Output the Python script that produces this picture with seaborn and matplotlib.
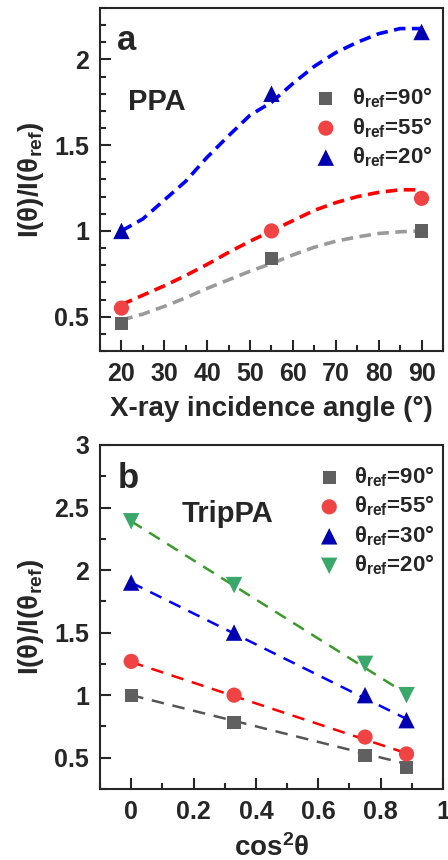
import pandas as pd
import matplotlib
matplotlib.use('Agg')
import matplotlib.pyplot as plt
from matplotlib.ticker import MultipleLocator, FormatStrFormatter
import seaborn as sns

# ---- panel a (PPA) ----
angle_pts = [20, 55, 90]
ppa_90 = [0.46, 0.84, 1.00]
ppa_55 = [0.55, 1.00, 1.19]
ppa_20 = [1.00, 1.80, 2.16]

# fitted curves
fit_angle = [20, 25, 30, 35, 40, 45, 50, 55, 60, 65, 70, 75, 80, 85, 90]
fit_90 = [0.48, 0.515, 0.56, 0.61, 0.665, 0.715, 0.765, 0.81, 0.86, 0.905, 0.94, 0.965, 0.985, 0.995, 1.00]
fit_55 = [0.57, 0.625, 0.68, 0.74, 0.805, 0.875, 0.94, 1.00, 1.06, 1.12, 1.165, 1.20, 1.225, 1.24, 1.24]
fit_20 = [1.00, 1.07, 1.18, 1.29, 1.43, 1.555, 1.675, 1.75, 1.86, 1.96, 2.04, 2.10, 2.15, 2.18, 2.18]

# ---- panel b (TripPA) ----
cos2_pts = [0.0, 0.33, 0.75, 0.883]
trip_90 = [1.00, 0.78, 0.52, 0.42]
trip_55 = [1.27, 1.00, 0.665, 0.53]
trip_30 = [1.90, 1.50, 1.00, 0.80]
trip_20 = [2.39, 1.88, 1.25, 1.00]

line_x = [0.0, 0.883]
line_90 = [1.00, 0.45]
line_55 = [1.265, 0.535]
line_30 = [1.90, 0.81]
line_20 = [2.39, 1.01]

sns.set_style('ticks')
plt.rcParams['font.family'] = ['Liberation Sans', 'DejaVu Sans']
plt.rcParams['font.weight'] = 'bold'
plt.rcParams['axes.labelweight'] = 'bold'
plt.rcParams['mathtext.fontset'] = 'custom'
plt.rcParams['mathtext.bf'] = 'Liberation Sans:bold'
plt.rcParams['mathtext.rm'] = 'Liberation Sans:bold'
plt.rcParams['mathtext.default'] = 'bf'

fig = plt.figure(figsize=(4.48, 8.6), dpi=100)
ax1 = fig.add_axes([0.2232, 0.5919, 0.7656, 0.3988])
ax2 = fig.add_axes([0.2232, 0.0826, 0.7656, 0.4])


def label(t):
    return '\u03b8$_{ref}$=' + t + '\u00b0'


# panel a
series_a = [
    ('90', ppa_90, fit_90, 's', '#606060', '#9a9a9a', 90),
    ('55', ppa_55, fit_55, 'o', '#f04444', '#ff0000', 120),
    ('20', ppa_20, fit_20, '^', '#0000b0', '#0000ff', 140),
]
for name, pts, fit, mk, mc, lc, sz in series_a:
    sns.lineplot(x=fit_angle, y=fit, ax=ax1, color=lc, linewidth=2.6,
                 linestyle=(0, (3.2, 1.8)), legend=False)
for name, pts, fit, mk, mc, lc, sz in series_a:
    sns.scatterplot(x=angle_pts, y=pts, ax=ax1, marker=mk, color=mc, s=sz,
                    edgecolor='none', label=label(name), zorder=3)

ax1.set_xlim(15, 95)
ax1.set_ylim(0.3, 2.3)
ax1.xaxis.set_major_locator(MultipleLocator(10))
ax1.xaxis.set_minor_locator(MultipleLocator(5))
ax1.yaxis.set_major_locator(MultipleLocator(0.5))
ax1.yaxis.set_minor_locator(MultipleLocator(0.1))
ax1.yaxis.set_major_formatter(FormatStrFormatter('%g'))
ax1.set_xlabel('X-ray incidence angle (\u00b0)', fontsize=20, labelpad=7)
ax1.set_ylabel('I(\u03b8)/I(\u03b8$_{ref}$)', fontsize=20, labelpad=6)
ax1.text(0.05, 0.878, 'a', transform=ax1.transAxes, fontsize=25, fontweight='bold')
ax1.text(0.082, 0.703, 'PPA', transform=ax1.transAxes, fontsize=21, fontweight='bold')
ax1.legend(loc='upper left', bbox_to_anchor=(0.6, 0.80), frameon=False,
           fontsize=16, handlelength=1.0, handletextpad=0.7, labelspacing=0.22,
           borderaxespad=0)

# panel b
series_b = [
    ('90', trip_90, line_90, 's', '#606060', '#555555', 90),
    ('55', trip_55, line_55, 'o', '#f04444', '#ff0000', 120),
    ('30', trip_30, line_30, '^', '#0000b0', '#0000ff', 140),
    ('20', trip_20, line_20, 'v', '#3aa86a', '#3a9a2a', 140),
]
for name, pts, fit, mk, mc, lc, sz in series_b:
    sns.lineplot(x=line_x, y=fit, ax=ax2, color=lc, linewidth=1.8,
                 linestyle=(0, (5, 3.5)), legend=False)
for name, pts, fit, mk, mc, lc, sz in series_b:
    sns.scatterplot(x=cos2_pts, y=pts, ax=ax2, marker=mk, color=mc, s=sz,
                    edgecolor='none', label=label(name), zorder=3)

ax2.set_xlim(-0.1, 1.0)
ax2.set_ylim(0.25, 3.0)
ax2.xaxis.set_major_locator(MultipleLocator(0.2))
ax2.xaxis.set_minor_locator(MultipleLocator(0.1))
ax2.xaxis.set_major_formatter(FormatStrFormatter('%g'))
ax2.yaxis.set_major_locator(MultipleLocator(0.5))
ax2.yaxis.set_minor_locator(MultipleLocator(0.25))
ax2.yaxis.set_major_formatter(FormatStrFormatter('%g'))
ax2.set_xlabel('cos$^2$\u03b8', fontsize=20, labelpad=7)
ax2.set_ylabel('I(\u03b8)/I(\u03b8$_{ref}$)', fontsize=20, labelpad=6)
ax2.text(0.052, 0.875, 'b', transform=ax2.transAxes, fontsize=25, fontweight='bold')
ax2.text(0.238, 0.776, 'TripPA', transform=ax2.transAxes, fontsize=21, fontweight='bold')
ax2.legend(loc='upper left', bbox_to_anchor=(0.61, 0.97), frameon=False,
           fontsize=16, handlelength=1.0, handletextpad=0.6, labelspacing=0.22,
           borderaxespad=0)

for ax in (ax1, ax2):
    for sp in ax.spines.values():
        sp.set_linewidth(1.5)
        sp.set_visible(True)
    ax.tick_params(which='both', direction='in', width=1.5, top=False, right=False,
                   labelsize=18, pad=8)
    ax.tick_params(which='major', length=8)
    ax.tick_params(which='minor', length=4)
    for lab in ax.get_xticklabels() + ax.get_yticklabels():
        lab.set_fontweight('bold')

fig.savefig('out.png', dpi=100)
